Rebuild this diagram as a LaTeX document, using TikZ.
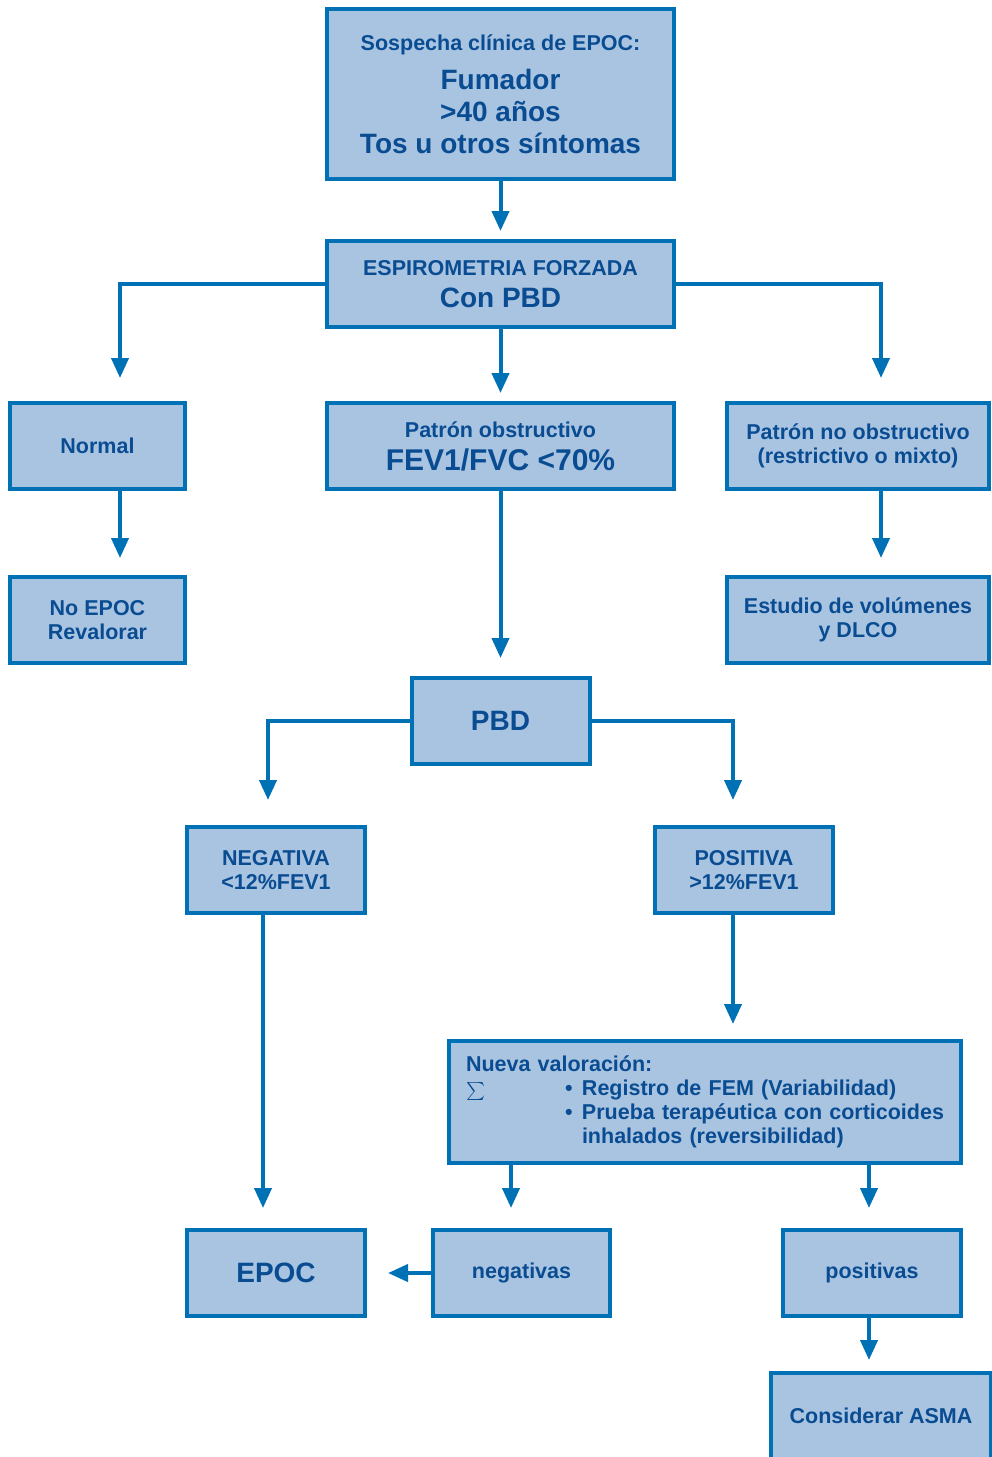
\documentclass[tikz,border=0pt]{standalone}
\usepackage{fontspec}
\setmainfont{Liberation Sans}
\usetikzlibrary{arrows.meta,calc}
\definecolor{bfill}{HTML}{A8C4E1}
\definecolor{bline}{HTML}{0071B4}
\definecolor{btext}{HTML}{0A4C92}
\newcommand{\fsm}{\fontsize{21.5}{24}\selectfont}
\newcommand{\flg}{\fontsize{28}{32}\selectfont}
\newcommand{\fxl}{\fontsize{30}{33}\selectfont}
\begin{document}
\begin{tikzpicture}[x=1pt,y=-1pt,
  flowbox/.style={draw=bline,fill=bfill,line width=4pt,text=btext,font=\bfseries\fsm,align=center,inner sep=0pt},
  arr/.style={draw=bline,line width=4pt,-{Triangle[width=17pt,length=20pt]}}]
\useasboundingbox (0,0) rectangle (992,1457);

\node[flowbox,minimum width=347,minimum height=170] (top) at (500.5,94)
  {Sospecha clínica de EPOC:\\[13pt]{\flg Fumador}\\[8pt]{\flg >40 años}\\[8pt]{\flg Tos u otros síntomas}};
\node[flowbox,minimum width=347,minimum height=86] (esp) at (500.5,284)
  {ESPIROMETRIA FORZADA\\[8pt]{\flg Con PBD}};
\node[flowbox,minimum width=175,minimum height=86] (normal) at (97.5,446) {Normal};
\node[flowbox,minimum width=347,minimum height=86] (obst) at (500.5,446)
  {Patrón obstructivo\\[9pt]{\fxl FEV1/FVC <70\%}};
\node[flowbox,minimum width=262,minimum height=86] (noobst) at (858,446)
  {Patrón no obstructivo\\(restrictivo o mixto)};
\node[flowbox,minimum width=175,minimum height=86] (noepoc) at (97.5,620) {No EPOC\\Revalorar};
\node[flowbox,minimum width=262,minimum height=86] (estudio) at (858,620) {Estudio de volúmenes\\y DLCO};
\node[flowbox,minimum width=178,minimum height=86] (pbd) at (500.5,721) {\flg PBD};
\node[flowbox,minimum width=178,minimum height=86] (neg) at (276,870) {NEGATIVA\\<12\%FEV1};
\node[flowbox,minimum width=178,minimum height=86] (pos) at (744,870) {POSITIVA\\>12\%FEV1};
\node[flowbox,minimum width=512,minimum height=122,text width=478,align=left] (nueva) at (705,1102)
  {\mbox{Nueva valoración:}\\
   \mbox{\makebox[99pt][l]{\smash{\scalebox{1.8}{\fontsize{10}{12}\selectfont$\sum$}}}\makebox[17pt][l]{\textbullet}Registro de FEM (Variabilidad)}\\
   \mbox{\hspace*{99pt}\makebox[17pt][l]{\textbullet}Prueba terapéutica con corticoides}\\
   \mbox{\hspace*{116pt}inhalados (reversibilidad)}};
\node[flowbox,minimum width=178,minimum height=86] (epoc) at (276,1273) {\flg EPOC};
\node[flowbox,minimum width=177,minimum height=86] (negs) at (521.5,1273) {negativas};
\node[flowbox,minimum width=178,minimum height=86] (poss) at (872,1273) {positivas};
\node[flowbox,minimum width=220,minimum height=86] (asma) at (881,1416) {Considerar ASMA};

\draw[arr,shorten >=8pt] (top) -- (esp);
\draw[arr,shorten >=23pt] (esp.west) -| ([xshift=22.5pt]normal.north);
\draw[arr,shorten >=8pt] (esp) -- (obst);
\draw[arr,shorten >=23pt] (esp.east) -| ([xshift=23pt]noobst.north);
\draw[arr,shorten >=17pt] ([xshift=22.5pt]normal.south) -- ([xshift=22.5pt]noepoc.north);
\draw[arr,shorten >=17pt] ([xshift=23pt]noobst.south) -- ([xshift=23pt]estudio.north);
\draw[arr,shorten >=18pt] (obst) -- (pbd);
\draw[arr,shorten >=25pt] (pbd.west) -| ([xshift=-8pt]neg.north);
\draw[arr,shorten >=25pt] (pbd.east) -| ([xshift=-11pt]pos.north);
\draw[arr,shorten >=20pt] ([xshift=-13pt]neg.south) -- ([xshift=-13pt]epoc.north);
\draw[arr,shorten >=15pt] ([xshift=-11pt]pos.south) -- ([xshift=28pt]nueva.north);
\draw[arr,shorten >=20pt] ([xshift=-194pt]nueva.south) -- ([xshift=-10.5pt]negs.north);
\draw[arr,shorten >=20pt] ([xshift=164pt]nueva.south) -- ([xshift=-3pt]poss.north);
\draw[arr,shorten >=21pt] (negs) -- (epoc);
\draw[arr,shorten >=11pt] ([xshift=-3pt]poss.south) -- ([xshift=-12pt]asma.north);
\end{tikzpicture}
\end{document}
